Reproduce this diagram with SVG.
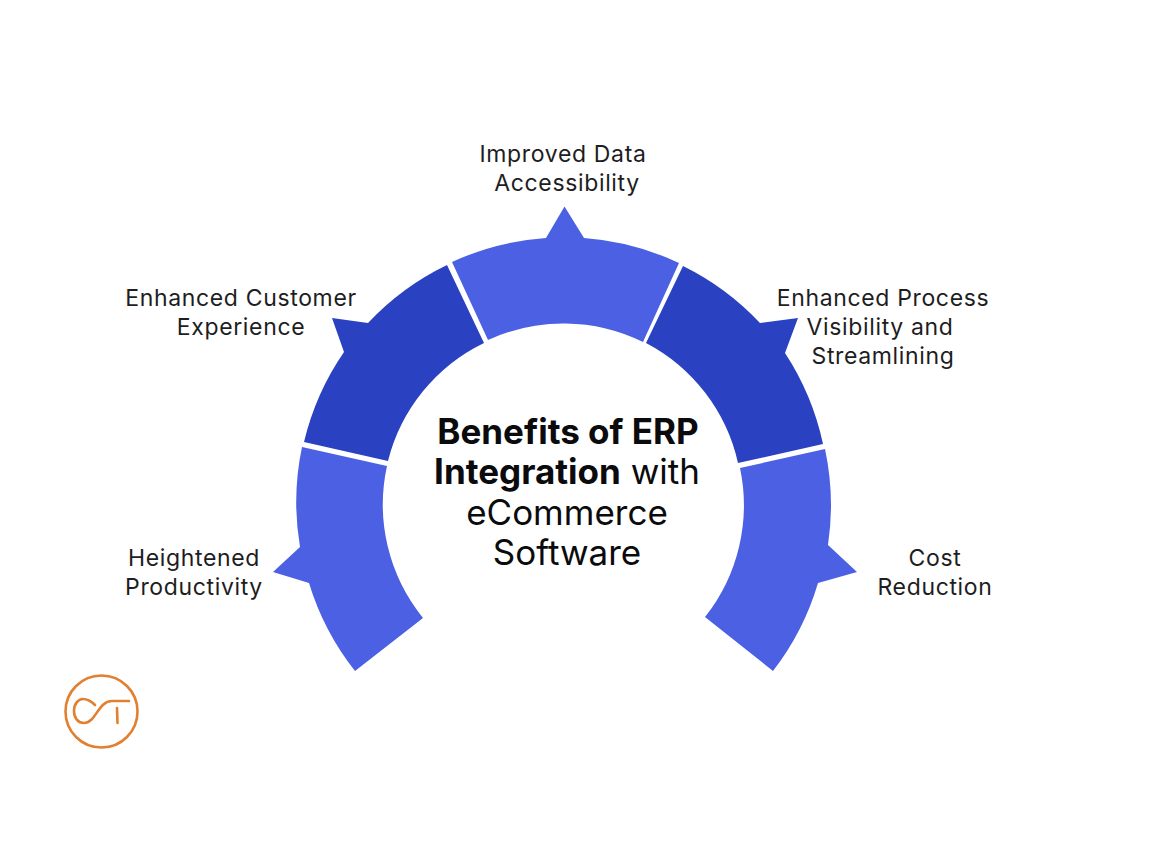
<svg xmlns="http://www.w3.org/2000/svg" width="1156" height="844" viewBox="0 0 1156 844">
<style>
.l{font-family:"Inter","Open Sans","Liberation Sans",sans-serif;font-size:23px;letter-spacing:.65px;fill:#1d1d22;text-anchor:middle}
.t{font-family:"Inter","Open Sans","Liberation Sans",sans-serif;font-size:35px;fill:#0b0b0d;text-anchor:middle}
.b{font-weight:700}
.light{fill:#4b60e3}
.dark{fill:#2a42c2}
.logo{fill:none;stroke:#e2802f;stroke-linecap:round;stroke-width:2.6}
</style>
<rect width="1156" height="844" fill="#fff"/>
<g id="seg-productivity">
<path class="light" d="M302 447L387 466A180 180 0 0 0 423 618L355 671A268 268 0 0 1 309 583L273 572L300 547A268 268 0 0 1 302 447Z"/>
<text class="l" x="194" y="566">Heightened</text><text class="l" x="194" y="595">Productivity</text>
</g>
<g id="seg-customer">
<path class="dark" d="M304 442L388 461A180 180 0 0 1 484 343L447 265A268 268 0 0 0 368 323L332 318L344 352A268 268 0 0 0 304 442Z"/>
<text class="l" x="241" y="306">Enhanced Customer</text><text class="l" x="241" y="335">Experience</text>
</g>
<g id="seg-data">
<path class="light" d="M452 262L488 340A180 180 0 0 1 643 342L679 263A268 268 0 0 0 584 238L564.500 206.500L546 238A268 268 0 0 0 452 262Z"/>
<text class="l" x="563" y="162">Improved Data</text><text class="l" x="567" y="191">Accessibility</text>
</g>
<g id="seg-process">
<path class="dark" d="M683 266L646 343A180 180 0 0 1 738 463L823 444A268 268 0 0 0 785 353L798 318L760 323A268 268 0 0 0 683 266Z"/>
<text class="l" x="883" y="306">Enhanced Process</text><text class="l" x="880" y="335">Visibility and</text><text class="l" x="883" y="364">Streamlining</text>
</g>
<g id="seg-cost">
<path class="light" d="M825 449L740 468A180 180 0 0 1 705 617L773 671A268 268 0 0 0 818 583L857 572L828 545A268 268 0 0 0 825 449Z"/>
<text class="l" x="935" y="566">Cost</text><text class="l" x="935" y="595">Reduction</text>
</g>
<g id="center">
<text class="t" x="568" y="444"><tspan class="b">Benefits of ERP</tspan></text>
<text class="t" x="567" y="484"><tspan class="b">Integration</tspan> with</text>
<text class="t" x="567" y="525">eCommerce</text>
<text class="t" x="567" y="565">Software</text>
</g>
<g id="logo">
<circle class="logo" cx="101.500" cy="711.500" r="36"/>
<path class="logo" d="M95 705C90 700 86 699 83 699C78 699 74 704 74 711C74 718 78 723 84 723C96 723 98 701 112 701L129 701M117 708L117.500 723"/>
</g>
</svg>
